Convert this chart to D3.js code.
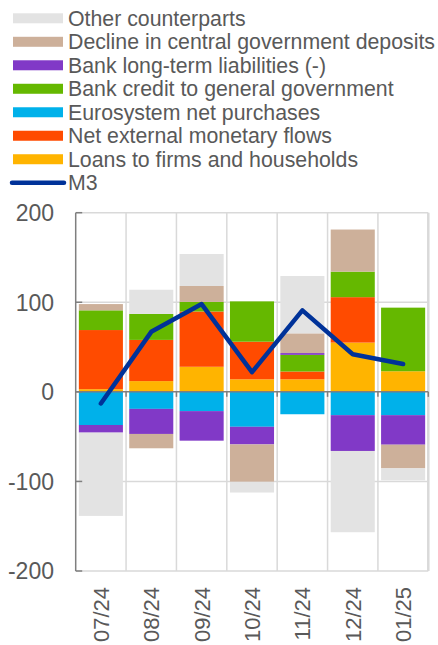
<!DOCTYPE html>
<html>
<head>
<meta charset="utf-8">
<script src="https://cdn.jsdelivr.net/npm/d3@7"></script>
<style>
  html, body { margin: 0; padding: 0; background: #fff; }
  svg { display: block; font-family: "Liberation Sans", Arial, sans-serif; }
</style>
</head>
<body>
<svg id="chart" width="438" height="645"></svg>
<script>
// Monthly contributions to M3 growth (EUR billions)
const months = ["07/24", "08/24", "09/24", "10/24", "11/24", "12/24", "01/25"];

const loans           = [3, 12, 28, 14, 14, 55, 23];
const netExternal     = [66, 46, 61.7, 42, 8.7, 50.7, 0];
const eurosystem      = [-37, -19, -21.5, -39, -25, -26, -26];
const bankCreditGov   = [22, 29, 10.7, 45, 18.6, 28.5, 71];
const bankLongTerm    = [-8.5, -28, -33, -19.7, 2, -40, -33];
const declineDeposits = [7, -16, 17.8, -41.7, 22, 47, -26.4];
const other           = [-93, 27, 35.7, -12, 64, -90.7, -13.4];
const m3              = [-13, 67, 98, 22, 91, 42, 31];

const yTicks = [200, 100, 0, -100, -200];

// Series in stacking order (closest to zero first)
const seriesDefs = [
  { key: "loans",   label: "Loans to firms and households",           values: loans,           color: "#ffb400" },
  { key: "netext",  label: "Net external monetary flows",             values: netExternal,     color: "#ff4b00" },
  { key: "euro",    label: "Eurosystem net purchases",                values: eurosystem,      color: "#00b1ea" },
  { key: "credit",  label: "Bank credit to general government",       values: bankCreditGov,   color: "#65b800" },
  { key: "ltl",     label: "Bank long-term liabilities (-)",          values: bankLongTerm,    color: "#8139c7" },
  { key: "deposit", label: "Decline in central government deposits",  values: declineDeposits, color: "#cdb09a" },
  { key: "other",   label: "Other counterparts",                      values: other,           color: "#e3e3e3" }
];

const rows = months.map((m, i) => {
  const r = { month: m };
  seriesDefs.forEach(s => { r[s.key] = s.values[i]; });
  return r;
});

const svg = d3.select("#chart");
const textColor = "#595959";
const axisColor = "#7f7f7f";
const gridColor = "#d9d9d9";

const plot = { left: 75.7, right: 428.3, top: 212.7, bottom: 571 };

const x = d3.scaleBand()
  .domain(months)
  .range([plot.left, plot.right])
  .paddingInner(0.125)
  .paddingOuter(0.0625);

const y = d3.scaleLinear()
  .domain([-200, 200])
  .range([plot.bottom, plot.top]);

const step = x.step();
const boundaries = d3.range(months.length + 1).map(i => plot.left + i * step);

// Gridlines
const grid = svg.append("g");
grid.selectAll("line.h")
  .data(yTicks.filter(v => v !== 0))
  .join("line")
  .attr("x1", plot.left).attr("x2", plot.right)
  .attr("y1", d => y(d)).attr("y2", d => y(d))
  .attr("stroke", gridColor).attr("stroke-width", 1.5);
grid.selectAll("line.v")
  .data(boundaries.slice(1))
  .join("line")
  .attr("x1", d => d).attr("x2", d => d)
  .attr("y1", plot.top).attr("y2", plot.bottom)
  .attr("stroke", gridColor).attr("stroke-width", (d, i) => i === months.length - 1 ? 2.5 : 1.5);

// Stacked bars
const stack = d3.stack()
  .keys(seriesDefs.map(s => s.key))
  .offset(d3.stackOffsetDiverging);
const stacked = stack(rows);

svg.append("g")
  .selectAll("g")
  .data(stacked)
  .join("g")
  .attr("fill", (d, i) => seriesDefs[i].color)
  .selectAll("rect")
  .data(d => d.filter(p => p[1] !== p[0]))
  .join("rect")
  .attr("x", d => x(d.data.month))
  .attr("width", x.bandwidth())
  .attr("y", d => y(Math.max(d[0], d[1])))
  .attr("height", d => Math.abs(y(d[0]) - y(d[1])));

// Zero axis with tick marks at category boundaries
const zeroAxis = svg.append("g").attr("transform", `translate(0,${y(0)})`);
zeroAxis.append("line")
  .attr("x1", plot.left).attr("x2", plot.right)
  .attr("stroke", axisColor).attr("stroke-width", 1.5);
zeroAxis.selectAll("line.tick")
  .data(boundaries.slice(1))
  .join("line")
  .attr("x1", d => d).attr("x2", d => d)
  .attr("y1", 0).attr("y2", 5)
  .attr("stroke", axisColor).attr("stroke-width", 1.5);

// Left axis
const yAxis = svg.append("g");
yAxis.append("line")
  .attr("x1", plot.left).attr("x2", plot.left)
  .attr("y1", plot.top).attr("y2", plot.bottom)
  .attr("stroke", axisColor).attr("stroke-width", 1.5);
yAxis.selectAll("line.tick")
  .data(yTicks)
  .join("line")
  .attr("x1", plot.left).attr("x2", plot.left + 6.5)
  .attr("y1", d => y(d)).attr("y2", d => y(d))
  .attr("stroke", axisColor).attr("stroke-width", 1.5);
yAxis.selectAll("text")
  .data(yTicks)
  .join("text")
  .attr("x", 54)
  .attr("y", d => y(d))
  .attr("dy", "0.36em")
  .attr("text-anchor", "end")
  .attr("fill", textColor)
  .attr("font-size", 23)
  .text(d => d);

// Category labels, rotated
svg.append("g")
  .selectAll("text")
  .data(months)
  .join("text")
  .attr("transform", d => `translate(${x(d) + x.bandwidth() / 2 + 8},587) rotate(-90)`)
  .attr("text-anchor", "end")
  .attr("fill", textColor)
  .attr("font-size", 22)
  .text(d => d);

// M3 line
const line = d3.line()
  .x((d, i) => x(months[i]) + x.bandwidth() / 2)
  .y(d => y(d));
svg.append("path")
  .datum(m3)
  .attr("d", line)
  .attr("fill", "none")
  .attr("stroke", "#003299")
  .attr("stroke-width", 4.5)
  .attr("stroke-linejoin", "round")
  .attr("stroke-linecap", "round");

// Legend
const legendItems = seriesDefs.slice().reverse();
const rowY = i => 18.3 + i * 23.49;
const legend = svg.append("g");
legendItems.forEach((s, i) => {
  legend.append("rect")
    .attr("x", 13).attr("y", rowY(i) - 5)
    .attr("width", 50).attr("height", 10)
    .attr("fill", s.color);
  legend.append("text")
    .attr("x", 68).attr("y", rowY(i))
    .attr("dy", "0.36em")
    .attr("fill", textColor)
    .attr("font-size", 21.3)
    .text(s.label);
});
const m3Row = rowY(legendItems.length);
legend.append("line")
  .attr("x1", 12).attr("x2", 64)
  .attr("y1", m3Row).attr("y2", m3Row)
  .attr("stroke", "#003299").attr("stroke-width", 4.5)
  .attr("stroke-linecap", "round");
legend.append("text")
  .attr("x", 68).attr("y", m3Row)
  .attr("dy", "0.36em")
  .attr("fill", textColor)
  .attr("font-size", 21.3)
  .text("M3");
</script>
</body>
</html>
